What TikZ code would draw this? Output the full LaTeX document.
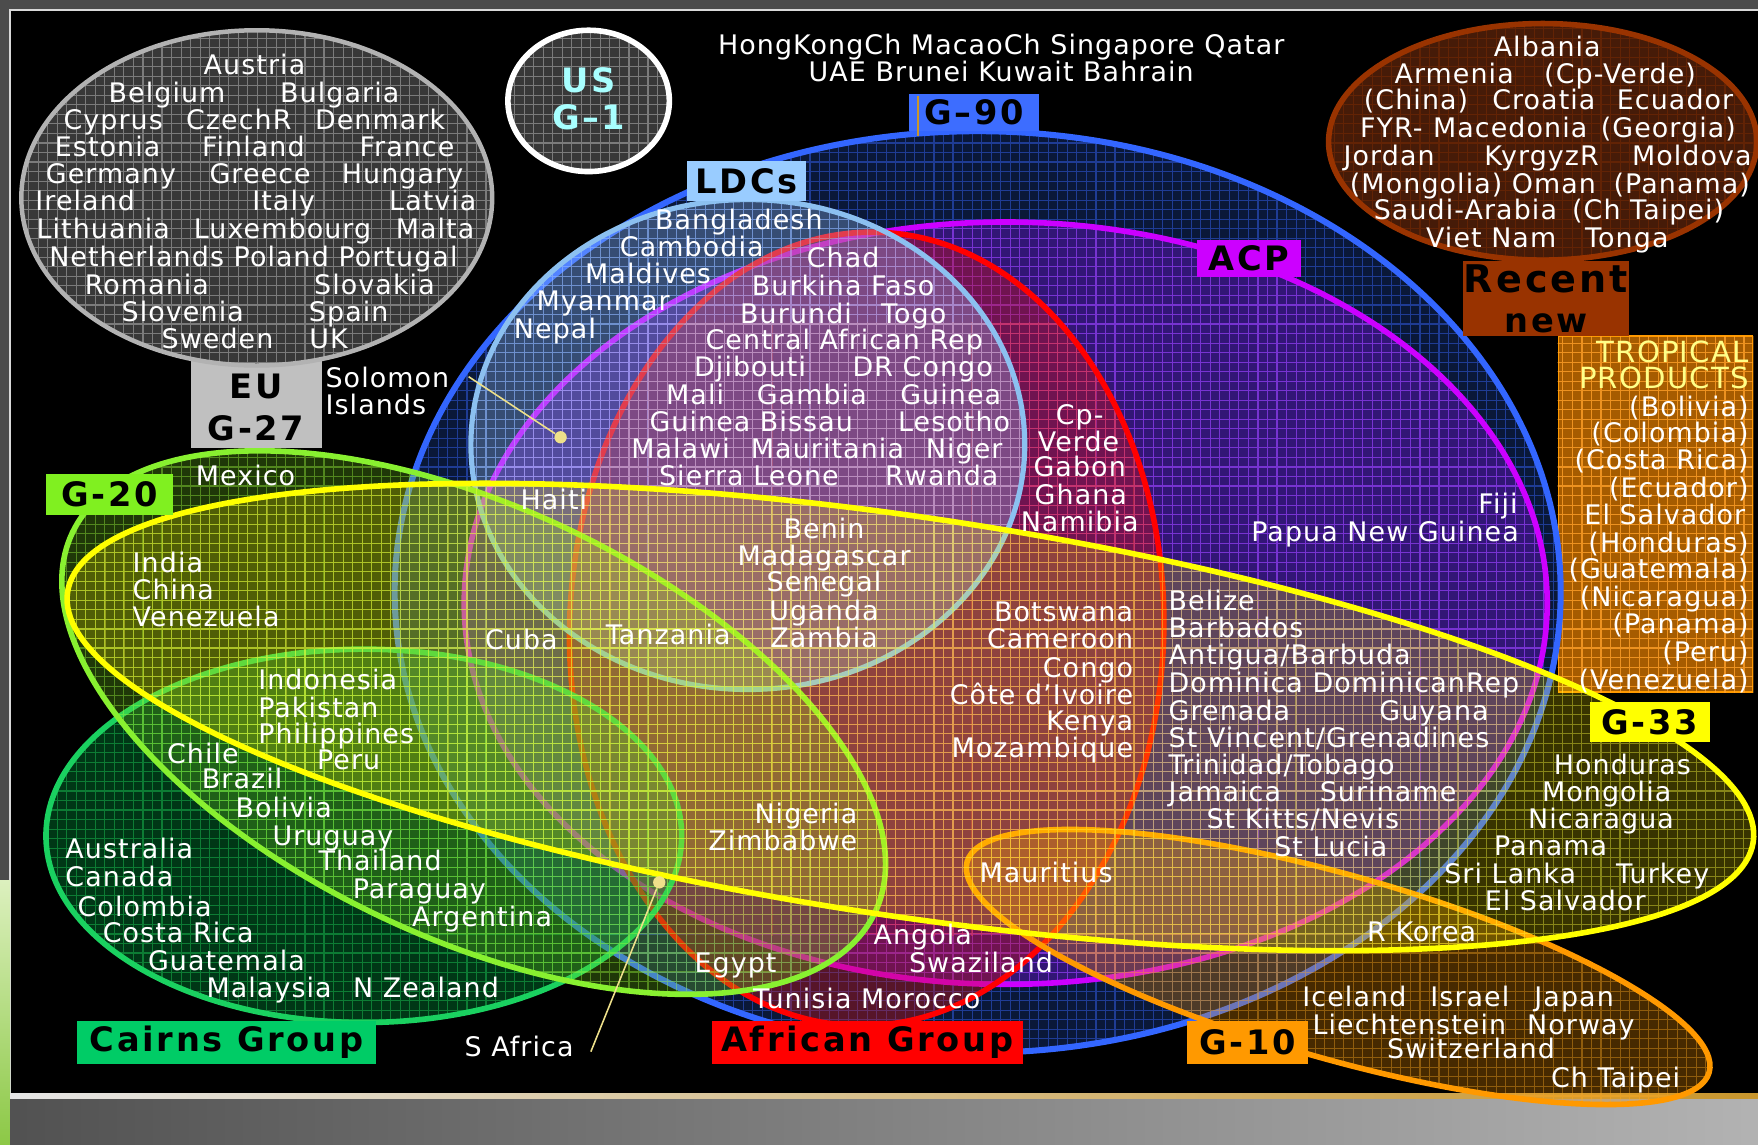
\documentclass[tikz,border=0pt]{standalone}
\usepackage{fontspec}
\newfontfamily\tfont{DejaVu Sans}[LetterSpace=4]
\newfontfamily\lfont{DejaVu Sans}[LetterSpace=8]
\usetikzlibrary{calc}
\definecolor{labgrey}{HTML}{C0C0C0}
\definecolor{gnineblue}{HTML}{3D6DFF}
\definecolor{ldcblue}{HTML}{99CCFF}
\definecolor{acpmag}{HTML}{CC00FF}
\definecolor{recbrown}{HTML}{993300}
\definecolor{gtwgreen}{HTML}{80F020}
\definecolor{yel}{HTML}{FFFF00}
\definecolor{cairnsgreen}{HTML}{00CC66}
\definecolor{afred}{HTML}{FF0000}
\definecolor{orng}{HTML}{FF9900}
\definecolor{uscyan}{HTML}{A8FFFF}
\definecolor{tropyel}{HTML}{FFFF88}
\definecolor{leader}{HTML}{EEE08A}
\newcounter{tn}
\newcommand\T[4][center]{\stepcounter{tn}\node[txt,anchor=#1] (t\arabic{tn}) at (#2,-#3) {#4};}
\newcommand\Lab[7]{\node[lab, fill=#6, minimum width={(#4-#2)*0.5pt}, minimum height={(#5-#3)*0.5pt}] (#1) at ({(#2+#4)/2},{-(#3+#5)/2}) {#7};}
% cx cy a b angle fill grid stroke
\newcommand\blob[8]{%
 \begin{scope}[rotate around={#5:(#1,-#2)}]
  \begin{scope}
   \clip (#1,-#2) ellipse [x radius=#3, y radius=#4];
   \fill[#6] (#1,-#2) ellipse [x radius=#3, y radius=#4];
   \begin{scope}[rotate around={(-1)*(#5):(#1,-#2)}]
     \draw[gridl,#7] ({#1-#3-9},{-#2-#3-9}) grid ({#1+#3+9},{-#2+#3+9});
   \end{scope}
  \end{scope}
  \draw[#8] (#1,-#2) ellipse [x radius=#3, y radius=#4];
 \end{scope}}
\begin{document}
\begin{tikzpicture}[x=0.5pt,y=0.5pt,
 txt/.style={font=\tfont\fontsize{12}{12.2}\selectfont, text=white, inner sep=0pt, text height=8.7pt, text depth=0pt},
 trp/.style={txt, font=\tfont\fontsize{13}{13}\selectfont, text height=9.4pt, text=tropyel},
 lab/.style={font=\lfont\bfseries\fontsize{15}{18}\selectfont, text=black, inner sep=0pt, align=center},
 gridl/.style={step=8.5, line width=0.5pt},
 leadline/.style={draw=leader, line width=0.7pt},
 dot/.style={circle, fill=leader, inner sep=0pt, minimum size=5.5pt}]
\useasboundingbox (0,0) rectangle (1568,-1021);
% frame
\fill[black] (0,0) rectangle (1568,-1021);
\fill[black!70] (0,0) rectangle (1568,-8);
\fill[black!70] (0,0) rectangle (8,-785);
\fill[white!85!black] (8,-8) rectangle (1568,-10);
\fill[white!85!black] (8,-8) rectangle (10,-975);
\shade[top color={rgb,255:red,220;green,240;blue,190}, bottom color={rgb,255:red,140;green,200;blue,70}] (0,-785) rectangle (9,-1021);
\shade[left color=white!90!black, right color={rgb,255:red,200;green,150;blue,45}] (9,-975) rectangle (1568,-981);
\shade[left color=black!68, right color=black!30] (9,-981) rectangle (1568,-1021);

% independent groups
\Lab{eub}{170}{310}{287}{400}{labgrey}{}
\blob{229}{176.5}{210}{149.5}{0}{fill=black!78}{draw=black!45, opacity=0.8}{draw=black!30, line width=2pt}
\node[lab] (eutxt) at (228.5,-345) {EU};
\node[lab] (gtstxt) at (228.5,-382) {G-27};
\blob{525}{90}{72}{63}{0}{fill=black!78}{draw=black!45, opacity=0.8}{draw=white, line width=2.5pt}
\blob{1376}{126.5}{191}{105.5}{0}{fill={rgb,255:red,70;green,27;blue,8}}{draw=recbrown, opacity=0.35}{draw=recbrown, line width=2.5pt}
\node[draw=orng, line width=0.8pt, fill={rgb,255:red,166;green,92;blue,0}, inner sep=0pt, minimum width=86.5pt, minimum height=158.5pt] (trop) at (1476.5,-458.5) {};
\begin{scope}
 \clip (trop.south west) rectangle (trop.north east);
 \draw[gridl, draw={rgb,255:red,255;green,160;blue,40}, opacity=0.8] (1380,-300) grid (1570,-620);
\end{scope}

% overlapping groups
\blob{872}{528}{520}{411}{0}{fill={rgb,255:red,10;green,24;blue,56}}{draw={rgb,255:red,45;green,85;blue,210}, opacity=0.6}{draw={rgb,255:red,51;green,102;blue,255}, line width=2.7pt}
\blob{897}{538}{483}{340}{0}{fill={rgb,255:red,110;green,20;blue,210}, fill opacity=0.4}{draw={rgb,255:red,190;green,60;blue,255}, opacity=0.45}{draw=acpmag, line width=2.5pt}
\blob{773}{561}{265}{354}{-1.7}{fill={rgb,255:red,224;green,16;blue,16}, fill opacity=0.36}{draw={rgb,255:red,255;green,70;blue,70}, opacity=0.4}{draw=afred, line width=2.5pt}
\blob{667}{396.5}{247}{218.5}{0}{fill={rgb,255:red,156;green,200;blue,255}, fill opacity=0.3}{draw={rgb,255:red,190;green,225;blue,255}, opacity=0.35}{draw={rgb,255:red,140;green,192;blue,240}, line width=2.3pt}
\blob{324.5}{745.5}{283.5}{166.5}{0}{fill={rgb,255:red,0;green,160;blue,64}, fill opacity=0.35}{draw={rgb,255:red,30;green,210;blue,90}, opacity=0.45}{draw={rgb,255:red,26;green,209;blue,96}, line width=2.5pt}
\blob{1193.5}{862.5}{344}{82}{-15.85}{fill=orng, fill opacity=0.28}{draw={rgb,255:red,255;green,170;blue,34}, opacity=0.4}{draw=orng, line width=2.5pt}
\blob{422.5}{644.5}{396}{192}{-25.3}{fill={rgb,255:red,126;green,224;blue,32}, fill opacity=0.25}{draw={rgb,255:red,160;green,255;blue,64}, opacity=0.4}{draw={rgb,255:red,136;green,240;blue,48}, line width=2.5pt}
\blob{812}{639.5}{760}{178}{-8.44}{fill={rgb,255:red,255;green,238;blue,0}, fill opacity=0.22}{draw={rgb,255:red,255;green,255;blue,64}, opacity=0.4}{draw=yel, line width=2.5pt}

% labels
\Lab{gnb}{811}{84}{927}{117}{gnineblue}{G–90}
\draw[draw={rgb,255:red,200;green,150;blue,45}, line width=0.8pt] ([xshift=4pt,yshift=-1pt]gnb.north west) -- ++(0,-36);
\Lab{ldcb}{613}{144}{719}{179}{ldcblue}{LDCs}
\Lab{acpb}{1068}{214}{1160}{247}{acpmag}{ACP}
\Lab{recb}{1305}{233}{1453}{300}{recbrown}{\fontsize{17}{17.5}\selectfont Recent\\new}
\Lab{gtwb}{41}{423}{154}{459}{gtwgreen}{G-20}
\Lab{gttb}{1418}{626}{1525}{662}{yel}{G-33}
\Lab{cairnsb}{69}{911}{335}{949}{cairnsgreen}{Cairns Group}
\Lab{afrb}{635}{911}{912}{949}{afred}{African Group}
\Lab{gtenb}{1059}{911}{1167}{949}{orng}{G-10}
\node[lab, text=uscyan] (us) at (525,-72) {US};
\node[lab, text=uscyan] (gone) at (525,-105) {G–1};

% leaders
\coordinate (solstart) at (418,-336);
\node[dot] (soldot) at (500,-390) {};
\draw[leadline] (solstart) -- (soldot);
\coordinate (safstart) at (527,-938);
\node[dot] (safdot) at (588,-787) {};
\draw[leadline] (safstart) -- (safdot);

% EU texts
\T{227}{58}{Austria}
\T{149}{83}{Belgium}\T{303}{83}{Bulgaria}
\T{101}{107}{Cyprus}\T{213}{107}{CzechR}\T{339}{107}{Denmark}
\T{96}{131}{Estonia}\T{226}{131}{Finland}\T{363}{131}{France}
\T{99}{155}{Germany}\T{232}{155}{Greece}\T{359}{155}{Hungary}
\T{76}{179}{Ireland}\T{253}{179}{Italy}\T{386}{179}{Latvia}
\T{92}{204}{Lithuania}\T{252}{204}{Luxembourg}\T{388}{204}{Malta}
\T{226}{229}{Netherlands Poland Portugal}
\T{131}{254}{Romania}\T{334}{254}{Slovakia}
\T{163}{278}{Slovenia}\T{311}{278}{Spain}
\T{194}{302}{Sweden}\T{293}{302}{UK}
% top
\T{893}{40}{HongKongCh MacaoCh Singapore Qatar}
\T{893}{64}{UAE Brunei Kuwait Bahrain}
% recent new
\T{1380}{42}{Albania}
\T{1297}{66}{Armenia}\T{1445}{66}{(Cp-Verde)}
\T{1263}{89}{(China)}\T{1377}{89}{Croatia}\T{1494}{89}{Ecuador}
\T{1241}{114}{FYR-}\T{1347}{114}{Macedonia}\T{1488}{114}{(Georgia)}
\T{1239}{139}{Jordan}\T{1375}{139}{KyrgyzR}\T{1509}{139}{Moldova}
\T{1272}{164}{(Mongolia)}\T{1386}{164}{Oman}\T{1500}{164}{(Panama)}
\T{1307}{187}{Saudi-Arabia}\T{1470}{187}{(Ch Taipei)}
\T{1330}{212}{Viet Nam}\T{1451}{212}{Tonga}
% tropical
\node[trp, anchor=east] (tropa) at (1560,-314) {TROPICAL};
\node[trp, anchor=east] (tropb) at (1560,-337) {PRODUCTS};
\T[east]{1560}{363}{(Bolivia)}
\T[east]{1560}{386}{(Colombia)}
\T[east]{1560}{410}{(Costa Rica)}
\T[east]{1560}{435}{(Ecuador)}
\T[east]{1557}{459}{El Salvador}
\T[east]{1560}{484}{(Honduras)}
\T[east]{1560}{507}{(Guatemala)}
\T[east]{1560}{532}{(Nicaragua)}
\T[east]{1560}{556}{(Panama)}
\T[east]{1560}{581}{(Peru)}
\T[east]{1560}{606}{(Venezuela)}
% LDC / African
\T{659}{196}{Bangladesh}
\T{617}{220}{Cambodia}
\T{578}{244}{Maldives}
\T{538}{268}{Myanmar}
\T{495}{293}{Nepal}
\T{752}{230}{Chad}
\T{752}{255}{Burkina Faso}
\T{710}{280}{Burundi}\T{815}{280}{Togo}
\T{753}{303}{Central African Rep}
\T{669}{327}{Djibouti}\T{823}{327}{DR Congo}
\T{620}{352}{Mali}\T{724}{352}{Gambia}\T{848}{352}{Guinea}
\T{670}{376}{Guinea Bissau}\T{851}{376}{Lesotho}
\T{607}{400}{Malawi}\T{738}{400}{Mauritania}\T{860}{400}{Niger}
\T{668}{424}{Sierra Leone}\T{840}{424}{Rwanda}
\T{963}{370}{Cp-}\T{962}{394}{Verde}\T{963}{416}{Gabon}\T{964}{441}{Ghana}\T{963}{465}{Namibia}
\T{494}{446}{Haiti}
\T{735}{472}{Benin}\T{735}{496}{Madagascar}\T{735}{519}{Senegal}\T{735}{545}{Uganda}\T{735}{569}{Zambia}
\T{596}{566}{Tanzania}
\T{465}{571}{Cuba}
\T[east]{1011}{546}{Botswana}
\T[east]{1011}{570}{Cameroon}
\T[east]{1011}{596}{Congo}
\T[east]{1011}{620}{Côte d’Ivoire}
\T[east]{1011}{643}{Kenya}
\T[east]{1011}{667}{Mozambique}
\T[east]{765}{726}{Nigeria}
\T[east]{765}{750}{Zimbabwe}
\T{933}{778}{Mauritius}
\T{823}{834}{Angola}
\T{875}{859}{Swaziland}
\T{773}{891}{Tunisia Morocco}
\T{656}{859}{Egypt}
% left
\T{219}{424}{Mexico}
\T[west]{118}{502}{India}
\T[west]{118}{526}{China}
\T[west]{118}{550}{Venezuela}
\T[west]{230}{606}{Indonesia}
\T[west]{230}{631}{Pakistan}
\T[west]{230}{654}{Philippines}
\T{181}{672}{Chile}\T{311}{678}{Peru}
\T{216}{695}{Brazil}
\T{253}{720}{Bolivia}
\T{297}{745}{Uruguay}
\T{339}{768}{Thailand}
\T{374}{793}{Paraguay}
\T{430}{818}{Argentina}
\T[west]{58}{757}{Australia}
\T[west]{58}{782}{Canada}
\T{129}{809}{Colombia}
\T{159}{832}{Costa Rica}
\T{202}{857}{Guatemala}
\T{240}{881}{Malaysia}\T{380}{881}{N Zealand}
\T{463}{934}{S Africa}
\T[west]{290}{337}{Solomon}
\T[west]{290}{361}{Islands}
% right
\T[east]{1354}{449}{Fiji}
\T[east]{1355}{474}{Papua New Guinea}
\T[west]{1042}{536}{Belize}
\T[west]{1042}{560}{Barbados}
\T[west]{1042}{584}{Antigua/Barbuda}
\T[west]{1042}{609}{Dominica DominicanRep}
\T[west]{1042}{634}{Grenada}\T{1279}{634}{Guyana}
\T[west]{1042}{658}{St Vincent/Grenadines}
\T[west]{1042}{682}{Trinidad/Tobago}
\T[west]{1042}{706}{Jamaica}\T{1238}{706}{Suriname}
\T{1162}{730}{St Kitts/Nevis}
\T{1187}{755}{St Lucia}
\T{1447}{682}{Honduras}
\T{1433}{706}{Mongolia}
\T{1428}{730}{Nicaragua}
\T{1383}{754}{Panama}
\T{1347}{779}{Sri Lanka}\T{1483}{779}{Turkey}
\T{1396}{803}{El Salvador}
\T{1268}{831}{R Korea}
\T{1208}{889}{Iceland}\T{1311}{889}{Israel}\T{1404}{889}{Japan}
\T{1257}{914}{Liechtenstein}\T{1410}{914}{Norway}
\T{1312}{935}{Switzerland}
\T{1441}{961}{Ch Taipei}
\end{tikzpicture}
\end{document}
